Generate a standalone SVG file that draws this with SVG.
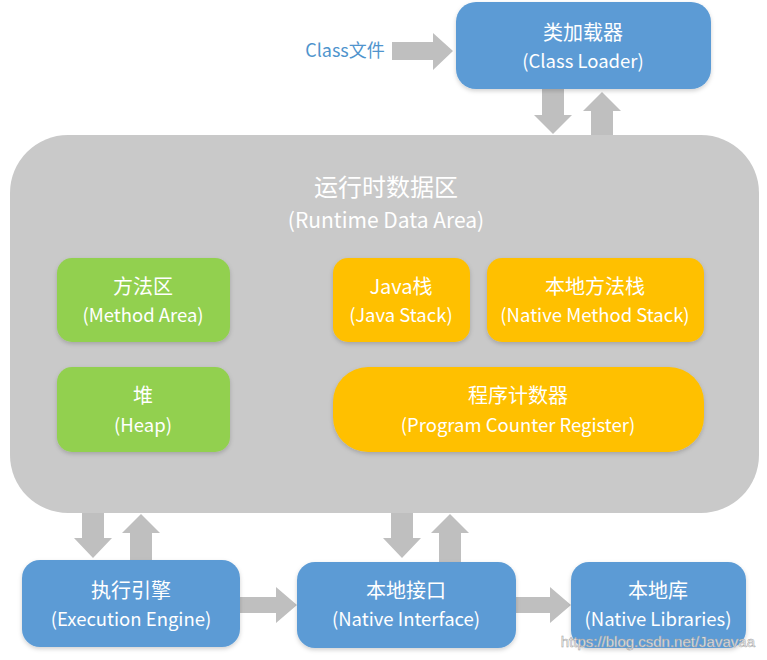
<svg xmlns="http://www.w3.org/2000/svg" width="767" height="660" viewBox="0 0 767 660">
<style>
  text { font-family: "Noto Sans CJK SC", "Noto Sans", sans-serif; text-anchor: middle; fill: #ffffff; }
  .cn { font-size: 20px; }
  .en { font-size: 18.5px; }
  .blue { fill: #5b9bd5; }
  .green { fill: #92d050; }
  .orange { fill: #ffc000; }
  .gray { fill: #c9c9c9; }
  .arrow { fill: #bfbfbf; }
</style>
<defs>
  <filter id="sh" x="-10%" y="-10%" width="120%" height="130%">
    <feDropShadow dx="0" dy="2" stdDeviation="2" flood-color="#000" flood-opacity="0.18"/>
  </filter>
</defs>
<rect width="767" height="660" fill="#ffffff"/>

<g id="connectors">
  <text x="345" y="57" style="font-size:18px;fill:#4f94cd">Class文件</text>
  <polygon class="arrow" points="392,42 433,42 433,33 453,51 433,70 433,60 392,60"/>
  <polygon class="arrow" points="542,88 564,88 564,115 572,115 553,134 534,115 542,115"/>
  <polygon class="arrow" points="591,137 613,137 613,111 621,111 602,92 583,111 591,111"/>
  <polygon class="arrow" points="82,510 104,510 104,538 112,538 93,558 74,538 82,538"/>
  <polygon class="arrow" points="130,562 152,562 152,533 160,533 141,514 122,533 130,533"/>
  <polygon class="arrow" points="391,510 413,510 413,538 421,538 402,558 383,538 391,538"/>
  <polygon class="arrow" points="439,564 461,564 461,533 469,533 450,514 431,533 439,533"/>
  <polygon class="arrow" points="240,597 276,597 276,587 297,605 276,623 276,613 240,613"/>
  <polygon class="arrow" points="515,597 550,597 550,587 571,605 550,623 550,613 515,613"/>
</g>

<g id="class-loader">
  <rect class="blue" x="456" y="2" width="255" height="87" rx="20" filter="url(#sh)"/>
  <text class="cn" x="583" y="40">类加载器</text>
  <text class="en" x="583" y="68">(Class Loader)</text>
</g>

<g id="runtime-data-area">
  <rect class="gray" x="10" y="135" width="749" height="378" rx="58"/>
  <text x="386" y="196" style="font-size:24px">运行时数据区</text>
  <text x="386" y="228" style="font-size:21px">(Runtime Data Area)</text>
</g>

<g id="method-area">
  <rect class="green" x="57" y="258" width="173" height="84" rx="15" filter="url(#sh)"/>
  <text class="cn" x="143" y="294">方法区</text>
  <text class="en" x="143" y="322">(Method Area)</text>
</g>

<g id="heap">
  <rect class="green" x="57" y="367" width="173" height="85" rx="15" filter="url(#sh)"/>
  <text class="cn" x="143" y="403">堆</text>
  <text class="en" x="143" y="432">(Heap)</text>
</g>

<g id="java-stack">
  <rect class="orange" x="333" y="258" width="137" height="84" rx="15" filter="url(#sh)"/>
  <text class="cn" x="401" y="294">Java栈</text>
  <text class="en" x="401" y="322">(Java Stack)</text>
</g>

<g id="native-method-stack">
  <rect class="orange" x="487" y="258" width="217" height="84" rx="15" filter="url(#sh)"/>
  <text class="cn" x="595" y="294">本地方法栈</text>
  <text class="en" x="595" y="322">(Native Method Stack)</text>
</g>

<g id="program-counter-register">
  <rect class="orange" x="333" y="367" width="371" height="85" rx="35" filter="url(#sh)"/>
  <text class="cn" x="518" y="403">程序计数器</text>
  <text class="en" x="518" y="432">(Program Counter Register)</text>
</g>

<g id="execution-engine">
  <rect class="blue" x="22" y="560" width="218" height="87" rx="18" filter="url(#sh)"/>
  <text class="cn" x="131" y="598">执行引擎</text>
  <text class="en" x="131" y="626">(Execution Engine)</text>
</g>

<g id="native-interface">
  <rect class="blue" x="297" y="562" width="219" height="86" rx="18" filter="url(#sh)"/>
  <text class="cn" x="406" y="598">本地接口</text>
  <text class="en" x="406" y="626">(Native Interface)</text>
</g>

<g id="native-libraries">
  <rect class="blue" x="571" y="562" width="175" height="86" rx="18" filter="url(#sh)"/>
  <text class="cn" x="658" y="598">本地库</text>
  <text class="en" x="658" y="626">(Native Libraries)</text>
</g>

<text x="755" y="647" style="font-family:'Liberation Sans',sans-serif;font-size:15px;text-anchor:end;fill:#f4f4f4;stroke:#a0a0a0;stroke-width:0.5">https://blog.csdn.net/Javavaa</text>
</svg>
